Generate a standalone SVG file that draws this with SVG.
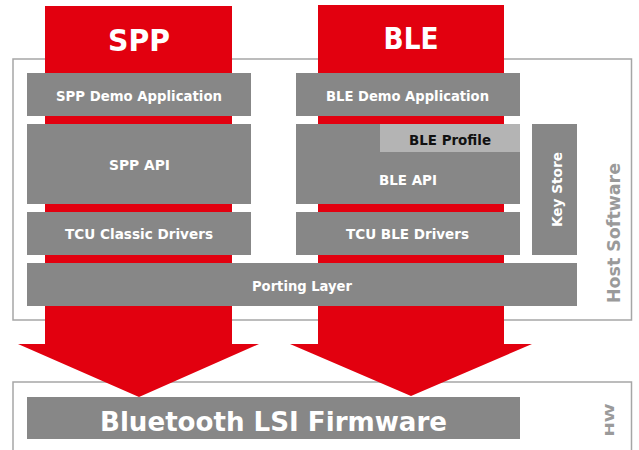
<svg xmlns="http://www.w3.org/2000/svg" width="639" height="450" viewBox="0 0 639 450">
<style>
.frame{fill:#ffffff;stroke:#a6a6a6;stroke-width:1.5}
.blk{fill:#878787}
.lite{fill:#b4b4b4}
.red{fill:#e2000f}
.t{font-family:"DejaVu Sans","Liberation Sans",Arial,sans-serif;font-weight:bold;fill:#ffffff;text-anchor:middle}
.s{font-size:14px}
.dark{fill:#111111}
.side{fill:#9a9a9a}
</style>
<rect width="639" height="450" fill="#ffffff"/>
<g id="host-frame">
<rect class="frame" x="13" y="59" width="618.5" height="261"/>
<text class="t side" font-size="18" transform="translate(620,233) rotate(-90)" textLength="140" lengthAdjust="spacingAndGlyphs">Host Software</text>
</g>
<g id="hw-frame">
<rect class="frame" x="13" y="382" width="618.5" height="80"/>
<text class="t side" font-size="13" transform="translate(614,420) rotate(-90)" textLength="33" lengthAdjust="spacingAndGlyphs">HW</text>
</g>
<g id="connectors">
<polygon id="spp-flow" class="red" points="45,6 232,6 232,344 259,344 139,397 18,344 45,344"/>
<polygon id="ble-flow" class="red" points="318,5 504,5 504,344 532,344 411,396 290,344 318,344"/>
<text class="t" font-size="30" x="139" y="51" textLength="62" lengthAdjust="spacingAndGlyphs">SPP</text>
<text class="t" font-size="30" x="411" y="49" textLength="55" lengthAdjust="spacingAndGlyphs">BLE</text>
</g>
<g id="spp-demo">
<rect class="blk" x="27" y="73" width="224" height="43"/>
<text class="t s" x="139" y="101" textLength="166" lengthAdjust="spacingAndGlyphs">SPP Demo Application</text>
</g>
<g id="spp-api">
<rect class="blk" x="27" y="124" width="224" height="80"/>
<text class="t s" x="139.5" y="170" textLength="61" lengthAdjust="spacingAndGlyphs">SPP API</text>
</g>
<g id="tcu-classic">
<rect class="blk" x="27" y="212" width="224" height="43"/>
<text class="t s" x="139" y="239" textLength="148" lengthAdjust="spacingAndGlyphs">TCU Classic Drivers</text>
</g>
<g id="ble-demo">
<rect class="blk" x="296" y="73" width="224" height="43"/>
<text class="t s" x="407.5" y="101" textLength="163" lengthAdjust="spacingAndGlyphs">BLE Demo Application</text>
</g>
<g id="ble-api">
<rect class="blk" x="296" y="124" width="224" height="80"/>
<text class="t s" x="408" y="185" textLength="58" lengthAdjust="spacingAndGlyphs">BLE API</text>
</g>
<g id="ble-profile">
<rect class="lite" x="380" y="124" width="140" height="28"/>
<text class="t s dark" x="450" y="145" textLength="82" lengthAdjust="spacingAndGlyphs">BLE Profile</text>
</g>
<g id="tcu-ble">
<rect class="blk" x="296" y="212" width="224" height="43"/>
<text class="t s" x="407.5" y="239" textLength="123" lengthAdjust="spacingAndGlyphs">TCU BLE Drivers</text>
</g>
<g id="key-store">
<rect class="blk" x="532" y="124" width="45" height="131"/>
<text class="t s" transform="translate(562,189.5) rotate(-90)" textLength="75" lengthAdjust="spacingAndGlyphs">Key Store</text>
</g>
<g id="porting-layer">
<rect class="blk" x="27" y="263" width="550" height="43"/>
<text class="t s" x="302" y="291" textLength="100" lengthAdjust="spacingAndGlyphs">Porting Layer</text>
</g>
<g id="firmware">
<rect class="blk" x="27" y="397" width="493" height="42"/>
<text class="t" font-size="27" x="273.5" y="431" textLength="347" lengthAdjust="spacingAndGlyphs">Bluetooth LSI Firmware</text>
</g>
</svg>
